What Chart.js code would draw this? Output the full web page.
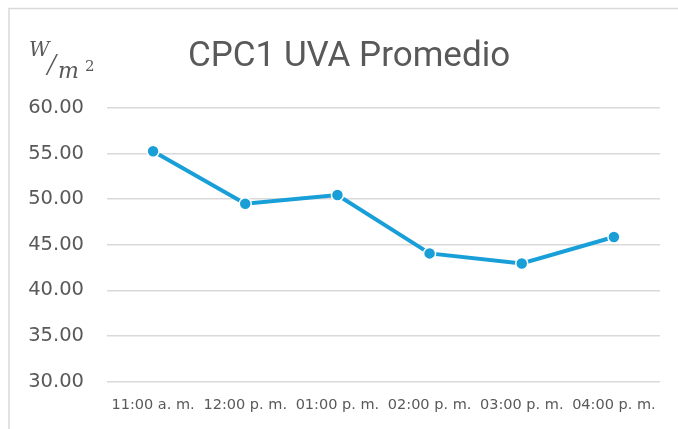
<!DOCTYPE html>
<html>
<head>
<meta charset="utf-8">
<script src="https://cdn.jsdelivr.net/npm/chart.js@4.4.1/dist/chart.umd.min.js"></script>
<style>
  html, body { margin: 0; padding: 0; background: #ffffff; }
  #wrap { width: 678px; height: 429px; position: relative; }
</style>
</head>
<body>
<div id="wrap"><canvas id="c" width="678" height="429"></canvas></div>
<script>
const categories = ["11:00 a. m.", "12:00 p. m.", "01:00 p. m.", "02:00 p. m.", "03:00 p. m.", "04:00 p. m."];
const uvaValues = [55.25, 49.5, 50.45, 44.05, 42.95, 45.85];
const chartTitle = "CPC1 UVA Promedio";
const yMin = 30, yMax = 60, yStep = 5;

const frameAndTitle = {
  id: 'frameAndTitle',
  beforeDraw(chart) {
    const ctx = chart.ctx;
    ctx.save();
    ctx.strokeStyle = '#d9d9d9';
    ctx.lineWidth = 1.5;
    ctx.beginPath();
    ctx.moveTo(9, 429);
    ctx.lineTo(9, 8.5);
    ctx.lineTo(678, 8.5);
    ctx.stroke();
    ctx.restore();
  },
  afterDraw(chart) {
    const ctx = chart.ctx;
    ctx.save();
    ctx.fillStyle = '#595959';
    ctx.textBaseline = 'alphabetic';
    ctx.textAlign = 'center';
    ctx.font = '35px Roboto, "Open Sans", sans-serif';
    ctx.fillText(chartTitle, 349, 66);
    // unit label W/m²
    ctx.textAlign = 'left';
    ctx.font = 'italic 20px "DejaVu Serif", serif';
    ctx.fillText('W', 29, 56);
    ctx.font = 'italic 31px "Liberation Serif", serif';
    ctx.fillText('/', 47, 75);
    ctx.font = 'italic 22px "DejaVu Serif", serif';
    ctx.fillText('m', 58, 78);
    ctx.font = '15px "DejaVu Serif", serif';
    ctx.fillText('2', 85, 71);
    ctx.restore();
  }
};

new Chart(document.getElementById('c'), {
  type: 'line',
  data: {
    labels: categories,
    datasets: [{
      label: chartTitle,
      data: uvaValues,
      borderColor: '#189fd8',
      backgroundColor: '#189fd8',
      borderWidth: 4,
      pointRadius: 6,
      pointBorderColor: '#ffffff',
      pointBorderWidth: 1.5,
      pointBackgroundColor: '#189fd8',
      tension: 0
    }]
  },
  options: {
    responsive: false,
    animation: false,
    layout: { padding: { top: 108, right: 18, left: 0, bottom: 0 } },
    plugins: { legend: { display: false }, title: { display: false }, tooltip: { enabled: false } },
    scales: {
      x: {
        offset: true,
        grid: { display: false, drawTicks: false },
        border: { display: false },
        ticks: { color: '#595959', font: { family: '"DejaVu Sans"', size: 14.5 }, padding: 15, maxRotation: 0, autoSkip: false },
        afterFit(s) { s.height = 47.5; }
      },
      y: {
        min: yMin, max: yMax,
        grid: { color: '#d9d9d9', lineWidth: 1.5, drawTicks: false },
        border: { display: false },
        ticks: {
          stepSize: yStep,
          color: '#595959',
          font: { family: '"DejaVu Sans"', size: 19.5 },
          padding: 23,
          callback: v => v.toFixed(2)
        },
        afterFit(s) { s.width = 107; }
      }
    }
  },
  plugins: [frameAndTitle]
});
</script>
</body>
</html>
